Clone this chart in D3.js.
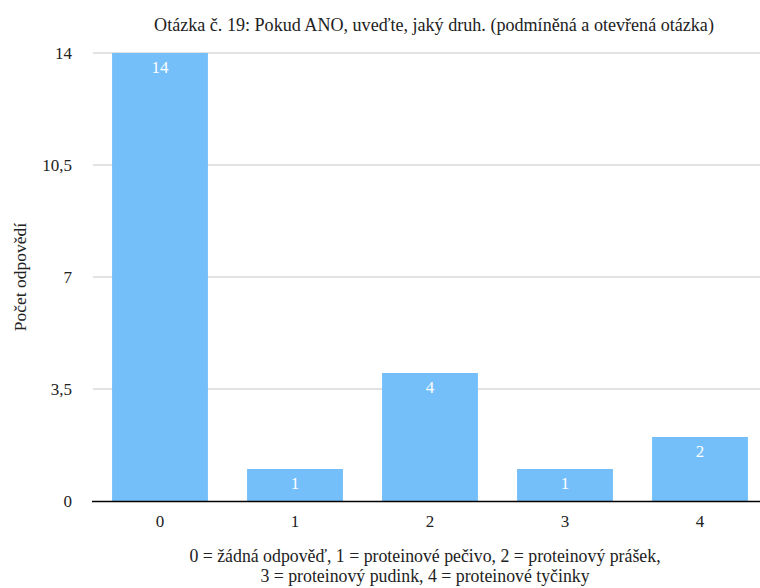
<!DOCTYPE html>
<html><head><meta charset="utf-8">
<script src="https://cdn.jsdelivr.net/npm/d3@7"></script>
<style>body{margin:0;background:#fff}</style>
</head><body><svg id="c" width="760" height="588"></svg>
<script>
const categories = ["0","1","2","3","4"];
const values = [14, 1, 4, 1, 2];
const yTicks = [0, 3.5, 7, 10.5, 14];
const tickLabels = ["0","3,5","7","10,5","14"];
const title = "Otázka č. 19: Pokud ANO, uveďte, jaký druh. (podmíněná a otevřená otázka)";
const yTitle = "Počet odpovědí";
const caption = ["0 = žádná odpověď, 1 = proteinové pečivo, 2 = proteinový prášek,", "3 = proteinový pudink, 4 = proteinové tyčinky"];

const FONT = "Liberation Serif";
const svg = d3.select("#c");
const x = d3.scaleBand().domain(categories).range([92.5, 767.5]).paddingInner(0.29).paddingOuter(0.145);
const y = d3.scaleLinear().domain([0, 14]).range([501, 53]);

svg.append("text").attr("x", 434).attr("y", 31).attr("text-anchor", "middle")
  .attr("font-family", FONT).attr("font-size", 18.1).attr("fill", "#222").text(title);

const grid = svg.append("g");
grid.selectAll("line").data(yTicks.slice(1)).join("line")
  .attr("x1", 93).attr("x2", 760).attr("y1", d => y(d)).attr("y2", d => y(d))
  .attr("stroke", "#c6c6c6").attr("stroke-width", 1);

svg.append("g").selectAll("text").data(yTicks).join("text")
  .attr("x", 72).attr("y", d => y(d) + 6).attr("text-anchor", "end").attr("font-family", FONT)
  .attr("font-size", 17).attr("fill", "#222").text((d, i) => tickLabels[i]);

svg.append("text").attr("transform", "translate(26,277) rotate(-90)").attr("text-anchor", "middle")
  .attr("font-family", FONT).attr("font-size", 17.5).attr("fill", "#222").text(yTitle);

svg.append("g").selectAll("rect").data(values).join("rect")
  .attr("x", (d, i) => x(categories[i])).attr("width", x.bandwidth())
  .attr("y", d => y(d)).attr("height", d => y(0) - y(d)).attr("fill", "#74bef9");

svg.append("g").selectAll("text").data(values).join("text")
  .attr("x", (d, i) => x(categories[i]) + x.bandwidth() / 2).attr("y", d => y(d) + 20)
  .attr("text-anchor", "middle").attr("font-family", FONT).attr("font-size", 17).attr("fill", "#fff").text(d => d);

svg.append("line").attr("x1", 92).attr("x2", 760).attr("y1", y(0) + 0.5).attr("y2", y(0) + 0.5)
  .attr("stroke", "#000").attr("stroke-width", 1.5);

svg.append("g").selectAll("text").data(categories).join("text")
  .attr("x", d => x(d) + x.bandwidth() / 2).attr("y", 527).attr("text-anchor", "middle")
  .attr("font-family", FONT).attr("font-size", 17).attr("fill", "#222").text(d => d);

svg.append("g").selectAll("text").data(caption).join("text")
  .attr("x", 425).attr("y", (d, i) => 562 + i * 19.5).attr("text-anchor", "middle")
  .attr("font-family", FONT).attr("font-size", 17.8).attr("fill", "#222").text(d => d);
</script></body></html>
